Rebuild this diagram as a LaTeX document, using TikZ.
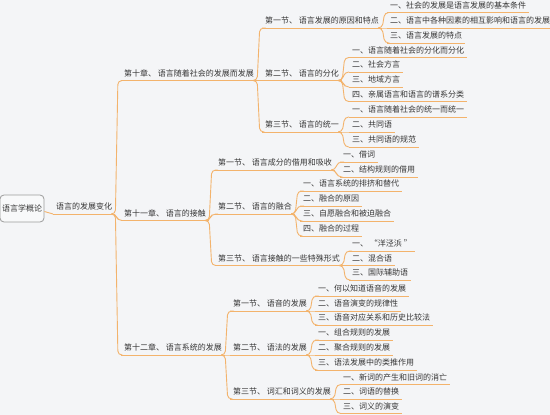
\documentclass[tikz,border=0pt]{standalone}
\usepackage{fontspec}
\newfontfamily\cjk{Noto Sans CJK SC}
\usetikzlibrary{calc}
\definecolor{bgc}{HTML}{F4F5F7}
\definecolor{linec}{HTML}{F3B36C}
\definecolor{txtc}{HTML}{363636}
\definecolor{boxc}{HTML}{9C9C9C}
\tikzset{
  item/.style={anchor=south west, inner xsep=3pt, inner ysep=4pt, text height=6pt, text depth=0pt,
    font=\cjk\fontsize{8}{9}\selectfont, text=txtc},
  rootbox/.style={draw=boxc, line width=0.8pt, rounded corners=4pt, fill=bgc!60!white,
    minimum width=44pt, minimum height=27pt, inner sep=1pt,
    font=\cjk\fontsize{8}{9}\selectfont, text=txtc},
  conn/.style={draw=linec, line width=0.9pt, rounded corners=4pt}
}
\newcommand\itm[4]{\node[item] (#1) at (#2,#3) {#4};\draw[conn] (#1.south west) -- (#1.south east);}
\newcommand\lnk[2]{\draw[conn] let \p1=(#1.south east), \p2=(#2.south west) in (\x1-4pt,\y1) -- (\p1) -- (\x1+2.5pt,\y2) -- (\p2);}
\begin{document}
\begin{tikzpicture}[x=1pt,y=-1pt]
\fill[bgc] (0,0) rectangle (550,415);
\useasboundingbox (0,0) rectangle (550,415);
\node[rootbox] (root) at (22,208.5) {语言学概论};
\itm{a}{53}{214}{语言的发展变化}
\draw[conn] ([yshift=-3pt]root.east) to[out=0,in=180] (a.south west);
% chapters
\itm{c10}{121}{80.5}{第十章、 语言随着社会的发展而发展}
\itm{c11}{121}{220.5}{第十一章、 语言的接触}
\itm{c12}{121}{355}{第十二章、 语言系统的发展}
\lnk{a}{c10}\lnk{a}{c11}\lnk{a}{c12}
% chapter 10
\itm{s101}{262}{28}{第一节、 语言发展的原因和特点}
\itm{s102}{262}{80.5}{第二节、 语言的分化}
\itm{s103}{262}{132}{第三节、 语言的统一}
\lnk{c10}{s101}\lnk{c10}{s102}\lnk{c10}{s103}
\itm{s101a}{387}{12.5}{一、社会的发展是语言发展的基本条件}
\itm{s101b}{387}{28}{二、语言中各种因素的相互影响和语言的发展}
\itm{s101c}{387}{43}{三、语言发展的特点}
\lnk{s101}{s101a}\lnk{s101}{s101b}\lnk{s101}{s101c}
\itm{s102a}{349}{57.5}{一、语言随着社会的分化而分化}
\itm{s102b}{349}{72}{二、社会方言}
\itm{s102c}{349}{87}{三、地域方言}
\itm{s102d}{349}{101.5}{四、亲属语言和语言的谱系分类}
\lnk{s102}{s102a}\lnk{s102}{s102b}\lnk{s102}{s102c}\lnk{s102}{s102d}
\itm{s103a}{349}{117}{一、语言随着社会的统一而统一}
\itm{s103b}{349}{132}{二、共同语}
\itm{s103c}{349}{147}{三、共同语的规范}
\lnk{s103}{s103a}\lnk{s103}{s103b}\lnk{s103}{s103c}
% chapter 11
\itm{s111}{215}{170}{第一节、 语言成分的借用和吸收}
\itm{s112}{215}{214}{第二节、 语言的融合}
\itm{s113}{215}{265.5}{第三节、 语言接触的一些特殊形式}
\lnk{c11}{s111}\lnk{c11}{s112}\lnk{c11}{s113}
\itm{s111a}{340}{162}{一、借词}
\itm{s111b}{340}{177}{二、结构规则的借用}
\lnk{s111}{s111a}\lnk{s111}{s111b}
\itm{s112a}{300}{191}{一、语言系统的排挤和替代}
\itm{s112b}{300}{206}{二、融合的原因}
\itm{s112c}{300}{221}{三、自愿融合和被迫融合}
\itm{s112d}{300}{236}{四、融合的过程}
\lnk{s112}{s112a}\lnk{s112}{s112b}\lnk{s112}{s112c}\lnk{s112}{s112d}
\itm{s113a}{349}{251}{一、 “洋泾浜 ”}
\itm{s113b}{349}{265.5}{二、混合语}
\itm{s113c}{349}{280}{三、国际辅助语}
\lnk{s113}{s113a}\lnk{s113}{s113b}\lnk{s113}{s113c}
% chapter 12
\itm{s121}{230}{311}{第一节、 语音的发展}
\itm{s122}{230}{355}{第二节、 语法的发展}
\itm{s123}{230}{399}{第三节、 词汇和词义的发展}
\lnk{c12}{s121}\lnk{c12}{s122}\lnk{c12}{s123}
\itm{s121a}{315}{296}{一、何以知道语音的发展}
\itm{s121b}{315}{311}{二、语音演变的规律性}
\itm{s121c}{315}{325}{三、语音对应关系和历史比较法}
\lnk{s121}{s121a}\lnk{s121}{s121b}\lnk{s121}{s121c}
\itm{s122a}{315}{340}{一、组合规则的发展}
\itm{s122b}{315}{355}{二、聚合规则的发展}
\itm{s122c}{315}{370}{三、语法发展中的类推作用}
\lnk{s122}{s122a}\lnk{s122}{s122b}\lnk{s122}{s122c}
\itm{s123a}{340}{384.5}{一、新词的产生和旧词的消亡}
\itm{s123b}{340}{399}{二、词语的替换}
\itm{s123c}{340}{413.5}{三、词义的演变}
\lnk{s123}{s123a}\lnk{s123}{s123b}\lnk{s123}{s123c}
\end{tikzpicture}
\end{document}
